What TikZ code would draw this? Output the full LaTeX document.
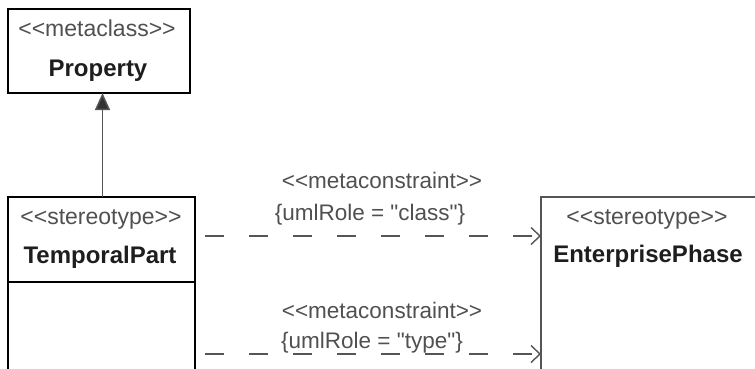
\documentclass[tikz,border=0pt]{standalone}
\usepackage{fontspec}
\setmainfont{Liberation Sans}[Ligatures=TeXOff]
\usetikzlibrary{arrows.meta}
\definecolor{stereo}{HTML}{505050}
\definecolor{namec}{HTML}{1E1E1E}
\definecolor{linec}{HTML}{555555}
\begin{document}
\begin{tikzpicture}[x=1pt,y=-1pt,
  stereotxt/.style={font=\fontsize{23}{26}\selectfont, text=stereo, inner sep=0pt, anchor=base},
  nametxt/.style={font=\fontsize{24}{27}\selectfont\bfseries, text=namec, inner sep=0pt, anchor=base},
  labtxt/.style={font=\fontsize{22.5}{26}\selectfont, text=stereo, inner sep=0pt, anchor=base},
  thickbox/.style={draw=black, line width=2.4pt},
  thinbox/.style={draw=linec, line width=1.6pt},
  depline/.style={draw=linec, line width=1.5pt, dash pattern=on 19pt off 25pt, -{Straight Barb[length=9pt,width=17pt,line width=1.4pt]}},
]
\useasboundingbox (0,0) rectangle (755,368);
% Property
\draw[thickbox] (8,9) rectangle (190,93);
\node[stereotxt] (pst) at (97,36) {<{}<metaclass>{}>};
\node[nametxt] (pname) at (98,76) {Property};
\coordinate (ptip) at (102.5,93);
% TemporalPart
\draw[thickbox] (8,197) rectangle (195,380);
\draw[thickbox] (8,282) -- (195,282);
\node[stereotxt] (tst) at (101,224) {<{}<stereotype>{}>};
\node[nametxt] (tname) at (100,263) {TemporalPart};
\coordinate (ttop) at (102.5,197);
% EnterprisePhase
\draw[thinbox] (541,197) rectangle (770,380);
\node[stereotxt] (est) at (647,224) {<{}<stereotype>{}>};
\node[nametxt] (ename) at (648,262) {EnterprisePhase};
% generalization
\draw[draw=linec, line width=1.5pt, -{Triangle[length=17pt,width=15pt,fill=black!80]}] (ttop) -- (ptip);
% dependencies
\coordinate (s1) at (205,236);
\coordinate (e1) at (541,236);
\coordinate (s2) at (205,354);
\coordinate (e2) at (541,354);
\draw[depline] (s1) -- (e1);
\draw[depline] (s2) -- (e2);
\node[labtxt] (l1a) at (382,188) {<{}<metaconstraint>{}>};
\node[labtxt] (l1b) at (370,220) {\{umlRole = "class"\}};
\node[labtxt] (l2a) at (382,318) {<{}<metaconstraint>{}>};
\node[labtxt] (l2b) at (372,348) {\{umlRole = "type"\}};
\end{tikzpicture}
\end{document}
